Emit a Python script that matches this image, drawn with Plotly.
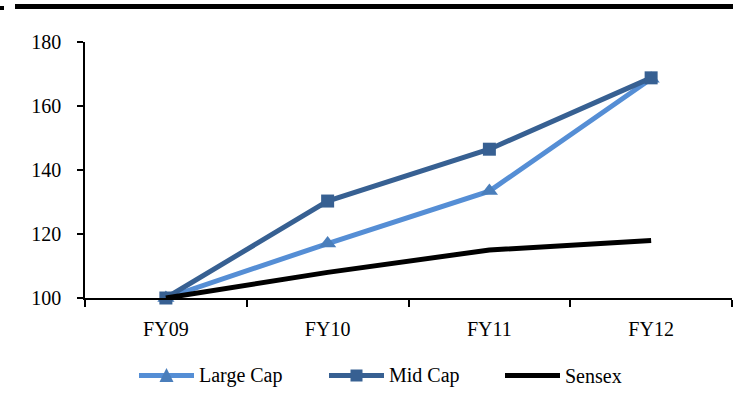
import plotly.graph_objects as go

# Index values (FY09 = 100)
years = ["FY09", "FY10", "FY11", "FY12"]
large_cap = [100, 117, 133.4, 168.5]
mid_cap = [100, 130.3, 146.5, 168.8]
sensex = [100, 108, 115, 118]

y_ticks = [100, 120, 140, 160, 180]

FONT = "Liberation Serif"
LARGE_LINE, LARGE_MARK = "#558ED5", "#4A7EBB"
MID_COLOR = "#376092"
SENSEX_COLOR = "#000000"

# Plot-area geometry in pixels (used to place the rule and the legend)
W, H = 733, 399
L, R, T, B = 85, 1, 42, 101
PW, PH = W - L - R, H - T - B


def px_x(x):
    return (x - L) / PW


def px_y(y):
    return (H - B - y) / PH


fig = go.Figure()

fig.add_trace(go.Scatter(
    x=years, y=large_cap, name="Large Cap", mode="lines+markers",
    line=dict(color=LARGE_LINE, width=5),
    marker=dict(symbol="triangle-up", size=15, color=LARGE_MARK),
    cliponaxis=False, showlegend=False,
))
fig.add_trace(go.Scatter(
    x=years, y=mid_cap, name="Mid Cap", mode="lines+markers",
    line=dict(color=MID_COLOR, width=5),
    marker=dict(symbol="square", size=13, color=MID_COLOR),
    cliponaxis=False, showlegend=False,
))
fig.add_trace(go.Scatter(
    x=years, y=sensex, name="Sensex", mode="lines",
    line=dict(color=SENSEX_COLOR, width=5),
    cliponaxis=False, showlegend=False,
))

# Heavy rule across the top of the exhibit
for x0, x1, y0, y1 in [(15, 733, 4, 9), (0, 4, 6, 10)]:
    fig.add_shape(type="rect", xref="paper", yref="paper",
                  x0=px_x(x0), x1=px_x(x1), y0=px_y(y1), y1=px_y(y0),
                  line_width=0, fillcolor="black", layer="above")

# Legend row beneath the chart
legend_y = 375.5
legend_items = [
    ("Large Cap", LARGE_LINE, LARGE_MARK, "triangle", 139),
    ("Mid Cap", MID_COLOR, MID_COLOR, "square", 329),
    ("Sensex", SENSEX_COLOR, None, None, 505),
]
for label, line_color, mark_color, mark, x_start in legend_items:
    x_end = x_start + 55
    fig.add_shape(type="line", xref="paper", yref="paper",
                  x0=px_x(x_start), x1=px_x(x_end),
                  y0=px_y(legend_y), y1=px_y(legend_y),
                  line=dict(color=line_color, width=5))
    xc = (x_start + x_end) / 2
    if mark == "triangle":
        pts = [(xc - 7, legend_y + 6.5), (xc + 7, legend_y + 6.5), (xc, legend_y - 7.5)]
        path = "M " + " L ".join(f"{px_x(a)},{px_y(b)}" for a, b in pts) + " Z"
        fig.add_shape(type="path", xref="paper", yref="paper", path=path,
                      fillcolor=mark_color, line_width=0)
    elif mark == "square":
        fig.add_shape(type="rect", xref="paper", yref="paper",
                      x0=px_x(xc - 6), x1=px_x(xc + 6),
                      y0=px_y(legend_y + 6), y1=px_y(legend_y - 6),
                      fillcolor=mark_color, line_width=0)
    fig.add_annotation(xref="paper", yref="paper",
                       x=px_x(x_end + 3), y=px_y(legend_y),
                       xanchor="left", yanchor="middle", showarrow=False,
                       text=label, font=dict(family=FONT, size=20, color="black"))

fig.update_layout(
    width=W, height=H,
    margin=dict(l=L, r=R, t=T, b=B),
    paper_bgcolor="white", plot_bgcolor="white",
    font=dict(family=FONT, size=20, color="black"),
    showlegend=False,
    xaxis=dict(
        type="category", range=[-0.5, 3.5],
        showline=True, linecolor="black", linewidth=2,
        ticks="outside", tickson="boundaries", ticklen=7, tickwidth=1.5, tickcolor="black",
        ticklabelstandoff=12,
        showgrid=False, zeroline=False,
    ),
    yaxis=dict(
        range=[100, 180], tickvals=y_ticks,
        showline=True, linecolor="black", linewidth=1.5,
        ticks="outside", ticklen=6, tickwidth=1.5, tickcolor="black",
        ticklabelstandoff=12,
        showgrid=False, zeroline=False,
    ),
)

fig.write_html("out.html")
